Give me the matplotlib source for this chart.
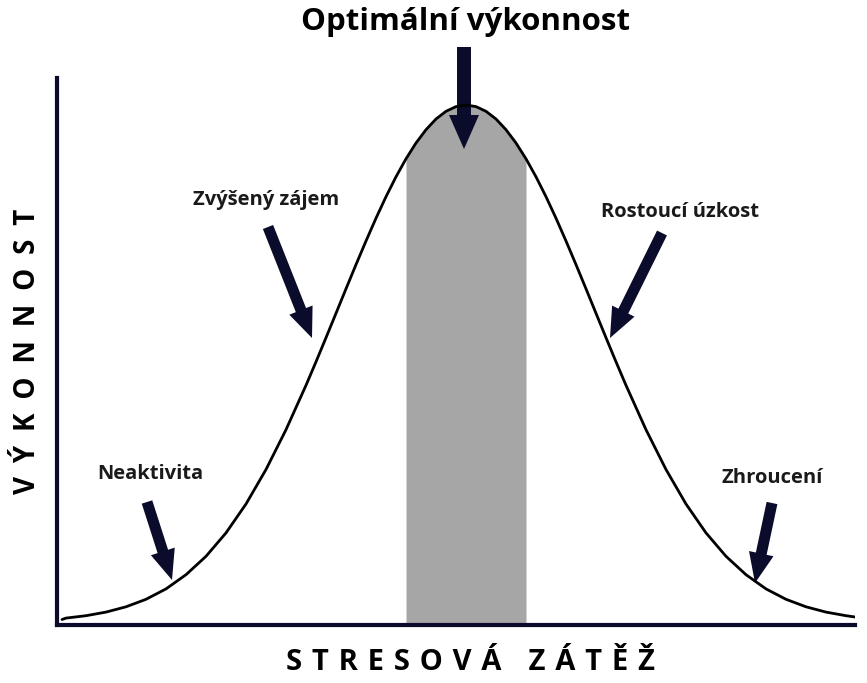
import numpy as np
import matplotlib.pyplot as plt

# stress load (x) and performance (y), in px-like units
stress = [5, 9, 29, 49, 69, 89, 109, 129, 149, 169, 189, 209, 229, 249, 259,
          269, 279, 289, 299, 309, 319, 329, 339, 349, 359, 369, 379, 389, 399,
          409, 419, 429, 439, 449, 459, 469, 479, 489, 499, 509, 519, 529, 539,
          549, 559, 569, 589, 609, 629, 649, 669, 689, 709, 729, 749, 769, 789,
          798]
performance = [5.5, 6.9, 9.3, 12.9, 18.2, 25.7, 36.1, 50.3, 68.7, 92.1, 121.0,
               155.5, 195.3, 239.7, 263.2, 287.3, 311.7, 336.2, 360.4, 384.0,
               406.8, 428.3, 448.2, 466.2, 482.0, 495.3, 506.0, 513.7, 518.4,
               520.0, 518.4, 513.7, 506.0, 495.3, 482.0, 466.2, 448.2, 428.3,
               406.8, 384.0, 360.4, 336.2, 311.7, 287.3, 263.2, 239.7, 195.3,
               155.5, 121.0, 92.1, 68.7, 50.3, 36.1, 25.7, 18.2, 12.9, 9.3, 8.0]
optimal_zone = (349, 469)

# labels: text, text position, arrow start, arrow tip
labels = ['Neaktivita', 'Zvýšený zájem', 'Optimální výkonnost',
          'Rostoucí úzkost', 'Zhroucení']
label_pos = [(93, 151), (209, 425), (409, 603), (623, 413), (715, 147)]
arrow_from = [(90, 123), (211, 398), (407, 578), (605, 392), (715, 122)]
arrow_to = [(115, 45), (255, 287), (407, 476), (553, 287), (698, 42)]

NAVY = '#0b0b2b'
FONT = ['Open Sans', 'DejaVu Sans']
x = np.array(stress)
y = np.array(performance)

fig = plt.figure(figsize=(8.67, 6.83), dpi=100)
ax = fig.add_axes([57 / 867, 58 / 683, 798 / 867, 547 / 683])
ax.set_xlim(0, 798)
ax.set_ylim(0, 547)

# optimal zone shading
mask = (x >= optimal_zone[0]) & (x <= optimal_zone[1])
ax.fill_between(x, 0, y, where=mask, color='#a6a6a6', lw=0)
ax.plot(x, y, color='black', lw=2.0, solid_capstyle='round')

for sp in ['top', 'right']:
    ax.spines[sp].set_visible(False)
for sp in ['left', 'bottom']:
    ax.spines[sp].set_linewidth(3)
    ax.spines[sp].set_color(NAVY)
ax.set_xticks([])
ax.set_yticks([])

for i, (text, pos) in enumerate(zip(labels, label_pos)):
    big = text == 'Optimální výkonnost'
    ax.text(pos[0], pos[1], text, ha='center', va='center',
            fontsize=22.5 if big else 14.5, fontweight='bold',
            family=FONT, color='black' if big else '#1a1a1a')
    (x0, y0), (x1, y1) = arrow_from[i], arrow_to[i]
    ax.arrow(x0, y0, x1 - x0, y1 - y0, width=14 if big else 11,
             head_width=30 if big else 25, head_length=34 if big else 30,
             length_includes_head=True, color=NAVY, lw=0, clip_on=False)

ax.text(413, -37, '\u2004'.join('STRESOVÁ ZÁTĚŽ'), ha='center', va='center',
        fontsize=21, fontweight='bold', family=FONT)
ax.text(-29, 274, '\u2002'.join('VÝKONNOST'), ha='center', va='center',
        rotation=90, fontsize=20, fontweight='bold', family=FONT)

fig.savefig('out.png', dpi=100)
